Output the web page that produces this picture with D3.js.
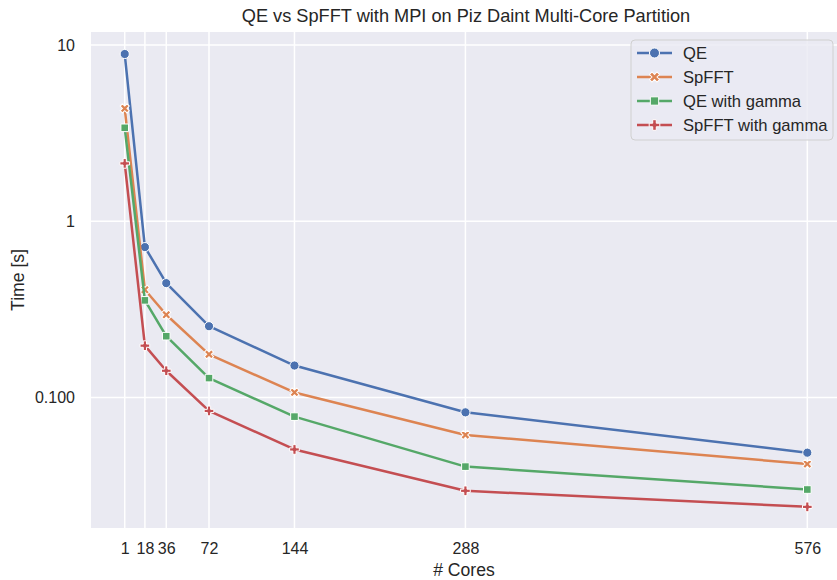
<!DOCTYPE html>
<html>
<head>
<meta charset="utf-8">
<script src="https://cdn.jsdelivr.net/npm/d3@7"></script>
<style>
  html, body { margin: 0; padding: 0; background: #fff; }
  svg { display: block; font-family: "Liberation Sans", Arial, sans-serif; }
</style>
</head>
<body>
<svg id="chart" width="837" height="580"></svg>
<script>
// ---- data ----
const cores = [1, 18, 36, 72, 144, 288, 576];
const qe          = [8.89, 0.714, 0.446, 0.254, 0.152, 0.0825, 0.0487];
const spfft       = [4.37, 0.409, 0.295, 0.176, 0.107, 0.0614, 0.0420];
const qeGamma     = [3.39, 0.356, 0.223, 0.129, 0.078, 0.0406, 0.0301];
const spfftGamma  = [2.13, 0.197, 0.142, 0.084, 0.0508, 0.0296, 0.0240];
const seriesNames = ["QE", "SpFFT", "QE with gamma", "SpFFT with gamma"];
const xTicks = [1, 18, 36, 72, 144, 288, 576];
const yTicks = [10, 1, 0.1];
const yTickLabels = ["10", "1", "0.100"];
const title = "QE vs SpFFT with MPI on Piz Daint Multi-Core Partition";
const xLabel = "# Cores";
const yLabel = "Time [s]";

const seriesValues = [qe, spfft, qeGamma, spfftGamma];
const colors = ["#4C72B0", "#DD8452", "#55A868", "#C44E52"];
const markers = ["circle", "x", "square", "plus"];

// ---- layout ----
const svg = d3.select("#chart");
const L = 91, R = 837, T = 32, B = 528;

const x = d3.scaleLinear().domain([-27.4, 601]).range([L, R]);
const y = d3.scaleLog().domain([0.01821, 11.85]).range([B, T]);

// background
svg.append("rect").attr("x", L).attr("y", T).attr("width", R - L).attr("height", B - T).attr("fill", "#EAEAF2");

// grid
const grid = svg.append("g");
grid.selectAll(".vx").data(xTicks).enter().append("line")
  .attr("x1", d => x(d)).attr("x2", d => x(d)).attr("y1", T).attr("y2", B)
  .attr("stroke", "#fff").attr("stroke-width", 1.5);
grid.selectAll(".hy").data(yTicks).enter().append("line")
  .attr("x1", L).attr("x2", R).attr("y1", d => y(d)).attr("y2", d => y(d))
  .attr("stroke", "#fff").attr("stroke-width", 1.5);

// axes (via d3 axis, domain hidden)
const xAxis = svg.append("g").attr("transform", `translate(0,${B})`)
  .call(d3.axisBottom(x).tickValues(xTicks).tickSize(0).tickPadding(15).tickFormat(d3.format("d")));
const yAxis = svg.append("g").attr("transform", `translate(${L},0)`)
  .call(d3.axisLeft(y).tickValues(yTicks).tickSize(0).tickPadding(16).tickFormat((d, i) => yTickLabels[i]));
[xAxis, yAxis].forEach(a => {
  a.select(".domain").remove();
  a.selectAll("text").attr("font-size", 16).attr("fill", "#262626")
    .attr("font-family", "'Liberation Sans', Arial, sans-serif");
});
xAxis.selectAll("text").attr("dy", "0.71em");

// labels
svg.append("text").attr("x", 466).attr("y", 22).attr("text-anchor", "middle")
  .attr("font-size", 18.2).attr("fill", "#262626").text(title);
svg.append("text").attr("x", (L + R) / 2).attr("y", 576).attr("text-anchor", "middle")
  .attr("font-size", 17.6).attr("fill", "#262626").text(xLabel);
svg.append("text").attr("transform", `translate(24,${(T + B) / 2}) rotate(-90)`).attr("text-anchor", "middle")
  .attr("font-size", 17.6).attr("fill", "#262626").text(yLabel);

// marker paths
function markerPath(kind, s) {
  s = s || 1;
  if (kind === "circle") return d3.symbol(d3.symbolCircle, 66 * s)();
  if (kind === "square") return d3.symbol(d3.symbolSquare, 58 * s)();
  if (kind === "plus") return d3.symbol(d3.symbolCross, 52 * s)();
  if (kind === "x") return d3.symbol(d3.symbolCross, 52 * s)();
}
function markerTransform(kind, px, py) {
  return kind === "x" ? `translate(${px},${py}) rotate(45)` : `translate(${px},${py})`;
}

const line = d3.line().x(d => x(d[0])).y(d => y(d[1]));

seriesValues.forEach((vals, i) => {
  const pts = cores.map((c, j) => [c, vals[j]]);
  const g = svg.append("g");
  g.append("path").datum(pts).attr("d", line).attr("fill", "none")
    .attr("stroke", colors[i]).attr("stroke-width", 2.5).attr("stroke-linejoin", "round");
  g.selectAll("path.m").data(pts).enter().append("path").attr("class", "m")
    .attr("d", markerPath(markers[i]))
    .attr("transform", d => markerTransform(markers[i], x(d[0]), y(d[1])))
    .attr("fill", colors[i]).attr("stroke", "#fff").attr("stroke-width", 1);
});

// legend
const lg = svg.append("g");
lg.append("rect").attr("x", 631).attr("y", 40).attr("width", 202).attr("height", 100)
  .attr("rx", 4).attr("fill", "#EAEAF2").attr("fill-opacity", 0.8)
  .attr("stroke", "#d0d0d0").attr("stroke-width", 1);
seriesNames.forEach((name, i) => {
  const cy = 53 + i * 24;
  lg.append("line").attr("x1", 637).attr("x2", 672).attr("y1", cy).attr("y2", cy)
    .attr("stroke", colors[i]).attr("stroke-width", 2.5);
  lg.append("path").attr("d", markerPath(markers[i], 1.2))
    .attr("transform", markerTransform(markers[i], 654.5, cy))
    .attr("fill", colors[i]).attr("stroke", "#fff").attr("stroke-width", 1);
  lg.append("text").attr("x", 683).attr("y", cy).attr("dy", "0.35em")
    .attr("font-size", 16.6).attr("fill", "#262626").text(name);
});
</script>
</body>
</html>
